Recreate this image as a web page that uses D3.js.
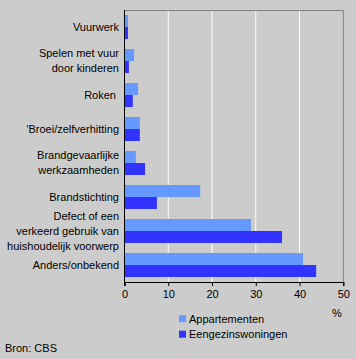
<!DOCTYPE html>
<html><head><meta charset="utf-8">
<script src="https://cdn.jsdelivr.net/npm/d3@7"></script>
<style>
html,body{margin:0;padding:0;background:#CCCCCC;}
svg{display:block;font-family:"Liberation Sans",Arial,sans-serif;}
</style></head>
<body>
<svg id="chart" width="356" height="359"></svg>
<script>
const categories = [
  ["Vuurwerk"],
  ["Spelen met vuur", "door kinderen"],
  ["Roken "],
  ["'Broei/zelfverhitting"],
  ["Brandgevaarlijke", "werkzaamheden"],
  ["Brandstichting"],
  ["Defect of een", "verkeerd gebruik van", "huishoudelijk voorwerp"],
  ["Anders/onbekend"]
];
const appartementen = [0.8, 2.2, 3.1, 3.5, 2.6, 17.3, 28.9, 40.8];
const eengezinswoningen = [0.8, 1.0, 1.9, 3.5, 4.7, 7.4, 36.0, 43.8];
const seriesNames = ["Appartementen", "Eengezinswoningen"];
const seriesColors = ["#6699FF", "#3333FF"];
const xTicks = [0, 10, 20, 30, 40, 50];

const svg = d3.select("#chart");
const L = 124.5, R = 343.3, T = 10, B = 282;
const x = d3.scaleLinear().domain([0, 50]).range([L, R]);
const y = d3.scaleBand().domain(d3.range(categories.length)).range([T, B]).paddingInner(10/34).paddingOuter(5/34);
const sub = d3.scaleBand().domain([0, 1]).range([0, y.bandwidth()]);

svg.append("rect").attr("width", 356).attr("height", 359).attr("fill", "#CCCCCC");

// gridlines
svg.append("g").selectAll("line").data(xTicks.slice(1, -1)).join("line")
  .attr("x1", d => x(d)).attr("x2", d => x(d)).attr("y1", T).attr("y2", B)
  .attr("stroke", "#FFFFFF").attr("stroke-width", 1);

// border top/right
svg.append("path").attr("d", `M${L},${T+0.5}H${R}V${B}`).attr("fill", "none").attr("stroke", "#808080");

// bars
const data = [appartementen, eengezinswoningen];
data.forEach((vals, s) => {
  svg.append("g").selectAll("rect").data(vals).join("rect")
    .attr("x", x(0)).attr("y", (d, i) => y(i) + sub(s))
    .attr("width", d => x(d) - x(0)).attr("height", sub.bandwidth())
    .attr("fill", seriesColors[s]);
});

// x axis
const xAxis = d3.axisBottom(x).tickValues(xTicks).tickSize(4).tickPadding(4).tickFormat(d3.format("d"));
const gx = svg.append("g").attr("transform", `translate(0,${B})`).call(xAxis);
gx.select(".domain").attr("stroke", "#000");
gx.selectAll(".tick line").attr("stroke", "#000");
gx.selectAll("text").attr("font-size", 11).attr("fill", "#000").attr("font-family", '"Liberation Sans",Arial,sans-serif');

// y axis line
svg.append("line").attr("x1", L).attr("x2", L).attr("y1", T).attr("y2", B + 4).attr("stroke", "#000");

// category labels
const lineH = 15;
const lbl = svg.append("g").attr("font-size", 11).attr("fill", "#000").attr("text-anchor", "end");
categories.forEach((lines, i) => {
  const cy = y(i) + y.bandwidth() / 2;
  const n = lines.length;
  lines.forEach((t, j) => {
    lbl.append("text").attr("x", 119).attr("y", cy + (j - (n - 1) / 2) * lineH)
      .attr("dy", "0.35em").style("white-space", "pre").text(t);
  });
});

// % unit
svg.append("text").attr("x", 337).attr("y", 313).attr("dy", "0.35em").attr("text-anchor", "middle")
  .attr("font-size", 11).text("%");

// legend
const lg = svg.append("g");
seriesNames.forEach((nm, i) => {
  const ly = 318.7 + i * 15.5;
  lg.append("rect").attr("x", 179).attr("y", ly - 3.5).attr("width", 7).attr("height", 7).attr("fill", seriesColors[i]);
  lg.append("text").attr("x", 189).attr("y", ly).attr("dy", "0.35em").attr("font-size", 11).text(nm);
});

// source
svg.append("text").attr("x", 5).attr("y", 348).attr("dy", "0.35em").attr("font-size", 11).text("Bron: CBS");
</script>
</body></html>
